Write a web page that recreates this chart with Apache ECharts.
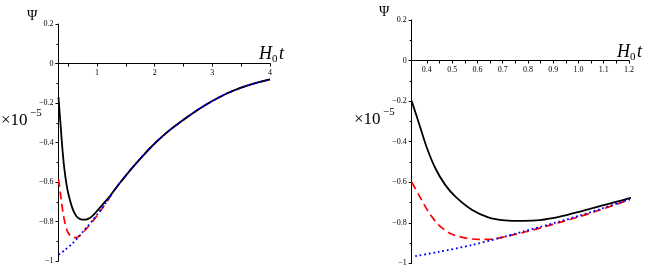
<!DOCTYPE html>
<html>
<head>
<meta charset="utf-8">
<script src="https://cdn.jsdelivr.net/npm/echarts@6/dist/echarts.min.js"></script>
<style>
html,body{margin:0;padding:0;background:#fff;}
#chart{width:655px;height:278px;}
</style>
</head>
<body>
<div id="chart"></div>
<script>
// ---- data (Psi in units of 1e-5, t in units of 1/H0) ----
const tBlack   = [0.333, 0.34, 0.374, 0.40, 0.433, 0.472, 0.512, 0.578, 0.643, 0.709, 0.78, 0.848, 0.927, 1.006, 1.085, 1.2];
const psiBlack = [-0.17, -0.20, -0.33, -0.43, -0.53, -0.612, -0.67, -0.736, -0.773, -0.788, -0.791, -0.787, -0.77, -0.745, -0.718, -0.68];

const tRed   = [0.333, 0.34, 0.367, 0.406, 0.446, 0.499, 0.578, 0.643, 0.709, 0.782, 0.85, 0.927, 1.006, 1.085, 1.2];
const psiRed = [-0.585, -0.60, -0.66, -0.745, -0.81, -0.857, -0.88, -0.882, -0.869, -0.848, -0.825, -0.798, -0.769, -0.737, -0.687];

const tBlue   = [0.333, 0.354, 0.446, 0.578, 0.683, 0.782, 0.85, 0.927, 1.006, 1.085, 1.2];
const psiBlue = [-0.967, -0.965, -0.944, -0.91, -0.877, -0.843, -0.820, -0.793, -0.764, -0.733, -0.685];

// common tail where all three curves coincide
const tTail   = [1.3, 1.4, 1.6, 1.8, 2.0, 2.25, 2.5, 2.75, 3.0, 3.25, 3.5, 3.75, 4.0];
const psiTail = [-0.642, -0.604, -0.532, -0.466, -0.405, -0.340, -0.285, -0.234, -0.190, -0.152, -0.122, -0.099, -0.081];

// axis ranges and ticks
const leftT  = [0.333, 4];
const rightT = [0.34, 1.2];
const psiUpper = [0, 0.2];   // part of the Psi axis above the t axis
const psiLower = [-1, 0];    // part of the Psi axis below the t axis
const leftLabelTicks  = [1, 2, 3, 4];
const leftAllTicks    = [0.5, 1, 1.5, 2, 2.5, 3, 3.5, 4];
const rightLabelTicks = [0.4, 0.5, 0.6, 0.7, 0.8, 0.9, 1.0, 1.1, 1.2];
const rightAllTicks   = [0.4, 0.45, 0.5, 0.55, 0.6, 0.65, 0.7, 0.75, 0.8, 0.85, 0.9, 0.95, 1.0, 1.05, 1.1, 1.15, 1.2];

function zip(ts, ps, tmin){ return ts.map((t,i)=>[t, ps[i]]).filter(p => p[0] >= tmin); }
function curveData(ts, ps, tmin){ return zip(ts, ps, tmin).concat(zip(tTail, psiTail, tmin)); }

const SERIF = '"Liberation Serif", "DejaVu Serif", serif';

function fmtY(v){
  const r = Math.round(v*10)/10;
  if (r === 0) return '0';
  return (r < 0 ? '\u2212' : '') + Math.abs(r).toString();
}

function yAxisCfg(gi, range, showMax){
  return {
    type:'value', gridIndex: gi, min:range[0], max:range[1], interval:0.2,
    axisLine:{show:true, onZero:false, lineStyle:{color:'#000', width:1}},
    axisTick:{show:true, length:3, lineStyle:{color:'#000'}},
    minorTick:{show:true, splitNumber:2, length:2, lineStyle:{color:'#000'}},
    splitLine:{show:false},
    axisLabel:{color:'#000', fontFamily:SERIF, fontSize:8, margin:5, formatter: fmtY, showMaxLabel: showMax}
  };
}

function xAxisShown(gi, range, labelTicks, allTicks, fmt){
  return {
    type:'value', gridIndex: gi, min:range[0], max:range[1], position:'bottom',
    axisLine:{show:true, onZero:false, lineStyle:{color:'#000', width:1}},
    axisTick:{show:true, length:3, customValues: allTicks, lineStyle:{color:'#000'}},
    splitLine:{show:false},
    axisLabel:{color:'#000', fontFamily:SERIF, fontSize:8, margin:5, customValues: labelTicks, formatter: fmt}
  };
}
function xAxisHidden(gi, range){
  return {type:'value', gridIndex: gi, min:range[0], max:range[1], show:false,
          axisLine:{onZero:false}, splitLine:{show:false}};
}

function curves(xi, yi, tmin){
  const base = {type:'line', xAxisIndex:xi, yAxisIndex:yi, showSymbol:false, symbol:'none',
                smooth:0.25, clip:true, silent:true};
  return [
    Object.assign({}, base, {name:'red'+xi,   data: curveData(tRed, psiRed, tmin),     z:2, lineStyle:{color:'#ff0000', width:1.7, type:[8,4.5]}}),
    Object.assign({}, base, {name:'black'+xi, data: curveData(tBlack, psiBlack, tmin), z:3, lineStyle:{color:'#000000', width:1.8}}),
    Object.assign({}, base, {name:'blue'+xi,  data: curveData(tBlue, psiBlue, tmin),   z:4, lineStyle:{color:'#0000ff', width:1.8, type:[1.8,2.8]}})
  ];
}

const chart = echarts.init(document.getElementById('chart'), null, {renderer:'canvas'});

function txt(text, x, y, size, italic){
  return {type:'text', x:x, y:y, silent:true,
    style:{text:text, fill:'#000', font:(italic?'italic ':'') + size + 'px ' + SERIF,
           align:'left', verticalAlign:'middle'}};
}

// panel boxes: Psi 0.2 at top, Psi -1 at bottom
const P0 = {left:58.5, top:24, width:211.5, height:237};
const P1 = {left:411.7, top:20, width:217.3, height:243.3};
function splitGrids(p){
  const hUp = p.height * (psiUpper[1]-psiUpper[0]) / (psiUpper[1]-psiLower[0]);
  return [
    {left:p.left, top:p.top, width:p.width, height:hUp, containLabel:false},
    {left:p.left, top:p.top + hUp, width:p.width, height:p.height - hUp, containLabel:false}
  ];
}

chart.setOption({
  animation:false,
  backgroundColor:'#fff',
  grid: splitGrids(P0).concat(splitGrids(P1)),
  xAxis:[
    xAxisShown(0, leftT, leftLabelTicks, leftAllTicks, v => String(Math.round(v))),
    xAxisHidden(1, leftT),
    xAxisShown(2, rightT, rightLabelTicks, rightAllTicks, v => v.toFixed(1)),
    xAxisHidden(3, rightT)
  ],
  yAxis:[
    yAxisCfg(0, psiUpper, true), yAxisCfg(1, psiLower, false),
    yAxisCfg(2, psiUpper, true), yAxisCfg(3, psiLower, false)
  ],
  series: curves(1, 1, leftT[0]).concat(curves(3, 3, rightT[0])),
  graphic:[
    txt('\u03A8', 27, 16, 14, false),
    txt('H', 259, 54, 18, true),
    txt('0', 272, 59, 11, false),
    txt('t', 279, 54, 18, true),
    txt('\u00D710', 1, 121, 17, false),
    txt('\u22125', 30, 113, 11, false),

    txt('\u03A8', 379, 12, 14, false),
    txt('H', 617, 52, 18, true),
    txt('0', 630, 57.5, 11, false),
    txt('t', 637, 52, 18, true),
    txt('\u00D710', 354, 120, 17, false),
    txt('\u22125', 383, 112, 11, false)
  ]
});
</script>
</body>
</html>
